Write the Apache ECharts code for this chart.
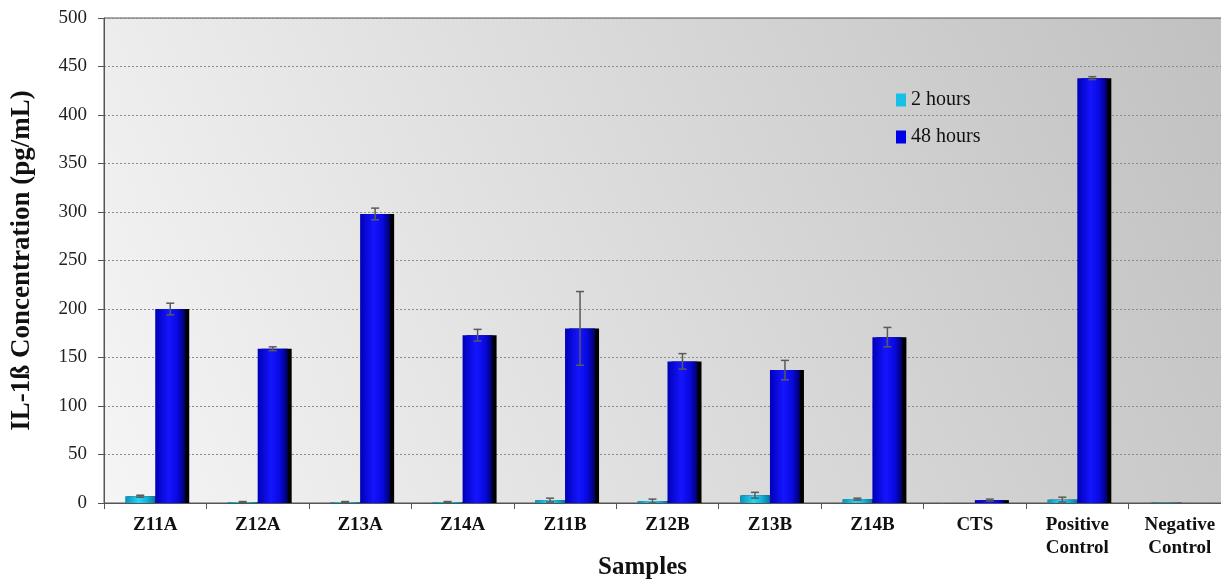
<!DOCTYPE html>
<html>
<head>
<meta charset="utf-8">
<script src="https://cdn.jsdelivr.net/npm/echarts@6/dist/echarts.min.js"></script>
<style>
  html, body { margin: 0; padding: 0; background: #ffffff; }
  #chart { width: 1221px; height: 583px; }
</style>
</head>
<body>
<div id="chart"></div>
<script>
// IL-1ß release per sample after 2 h and 48 h exposure (mean ± error)
const categories = ['Z11A', 'Z12A', 'Z13A', 'Z14A', 'Z11B', 'Z12B', 'Z13B', 'Z14B', 'CTS', 'Positive\nControl', 'Negative\nControl'];
const hours2    = [7, 1, 1, 1, 3, 2, 8, 4, null, 3.5, 0.4];
const hours2Err = [1, 0.5, 0.5, 0.5, 2, 2, 3, 1, null, 2.5, 0];
const hours48    = [200, 159, 298, 173, 180, 146, 137, 171, 3, 438, null];
const hours48Err = [6, 2, 6, 6, 38, 8, 10, 10, 1, 1.5, null];
const yTicks = { min: 0, max: 500, interval: 50 };

const BAR_W = 30;
const serif = '"Liberation Serif", "DejaVu Serif", serif';

function grad(stops) {
  return new echarts.graphic.LinearGradient(0, 0, 1, 0, stops.map(c => ({ offset: c[0], color: c[1] })));
}
const cyanFill = grad([[0, '#0a8fb8'], [0.45, '#2ad4f2'], [0.7, '#14b6dc'], [1, '#06789c']]);
const blueFill = grad([[0, '#0000b8'], [0.45, '#1515ff'], [0.75, '#0808e0'], [1, '#000060']]);

function errData(vals, errs) {
  const out = [];
  vals.forEach((v, i) => { if (v != null && errs[i] != null && errs[i] > 0) out.push([i, v, errs[i]]); });
  return out;
}

function errorBars(offset) {
  return function (params, api) {
    const i = api.value(0), v = api.value(1), e = api.value(2);
    const hi = api.coord([i, v + e]);
    const lo = api.coord([i, Math.max(0, v - e)]);
    const x = hi[0] + offset;
    const cap = 4;
    const style = { stroke: '#5a5a5a', lineWidth: 1.5 };
    return {
      type: 'group',
      children: [
        { type: 'line', shape: { x1: x, y1: hi[1], x2: x, y2: lo[1] }, style },
        { type: 'line', shape: { x1: x - cap, y1: hi[1], x2: x + cap, y2: hi[1] }, style },
        { type: 'line', shape: { x1: x - cap, y1: lo[1], x2: x + cap, y2: lo[1] }, style }
      ]
    };
  };
}

const chart = echarts.init(document.getElementById('chart'));
chart.setOption({
  animation: false,
  backgroundColor: '#ffffff',
  grid: {
    left: 104, right: -10, top: 18, bottom: 80,
    containLabel: false,
    outerBoundsMode: 'none',
    show: true,
    borderWidth: 1,
    borderColor: '#555',
    // plot backdrop: darker grey top-right fading to near white bottom-left
    backgroundColor: new echarts.graphic.LinearGradient(1, 0, 0, 1, [
      { offset: 0, color: '#c0c0c0' },
      { offset: 1, color: '#f5f5f5' }
    ])
  },
  legend: {
    orient: 'vertical',
    left: 891, top: 85,
    icon: 'rect',
    itemWidth: 10, itemHeight: 13,
    itemGap: 17,
    textStyle: { fontFamily: serif, fontSize: 20, color: '#111' },
    data: [
      { name: '2 hours', itemStyle: { color: '#18c0e6' } },
      { name: '48 hours', itemStyle: { color: '#0000e6' } }
    ]
  },
  xAxis: {
    type: 'category',
    data: categories,
    name: 'Samples',
    nameLocation: 'middle',
    nameGap: 52,
    nameMoveOverlap: false,
    nameTextStyle: { fontFamily: serif, fontSize: 25, fontWeight: 'bold', color: '#111', padding: [0, 50, 0, 0] },
    axisLine: { lineStyle: { color: '#555', width: 1 } },
    axisTick: { show: true, length: 6, lineStyle: { color: '#555' } },
    axisLabel: { fontFamily: serif, fontSize: 19, fontWeight: 'bold', color: '#111', margin: 11, lineHeight: 23, interval: 0 }
  },
  yAxis: {
    type: 'value',
    min: yTicks.min, max: yTicks.max, interval: yTicks.interval,
    name: 'IL-1ß Concentration (pg/mL)',
    nameLocation: 'middle',
    nameGap: 68,
    nameMoveOverlap: false,
    nameTextStyle: { fontFamily: serif, fontSize: 27, fontWeight: 'bold', color: '#111' },
    axisLine: { show: true, lineStyle: { color: '#555', width: 1 } },
    axisTick: { show: true, length: 6, lineStyle: { color: '#555' } },
    axisLabel: { fontFamily: serif, fontSize: 19, color: '#222', margin: 17 },
    splitLine: { show: true, lineStyle: { color: '#8c8c8c', type: [2, 2], width: 1 } }
  },
  series: [
    {
      name: '2 hours', type: 'bar', data: hours2,
      barWidth: BAR_W, barGap: '0%',
      itemStyle: { color: cyanFill, shadowColor: 'rgba(0,0,0,0.85)', shadowOffsetX: 2, shadowOffsetY: 0, shadowBlur: 0 }
    },
    {
      name: '48 hours', type: 'bar', data: hours48,
      barWidth: BAR_W, barGap: '0%',
      itemStyle: { color: blueFill, shadowColor: '#000', shadowOffsetX: 4, shadowOffsetY: 0, shadowBlur: 0 }
    },
    {
      type: 'custom', name: '2 hours err', z: 5,
      renderItem: errorBars(-BAR_W / 2),
      data: errData(hours2, hours2Err),
      encode: { x: 0, y: 1 }
    },
    {
      type: 'custom', name: '48 hours err', z: 5,
      renderItem: errorBars(BAR_W / 2),
      data: errData(hours48, hours48Err),
      encode: { x: 0, y: 1 }
    }
  ]
});
</script>
</body>
</html>
